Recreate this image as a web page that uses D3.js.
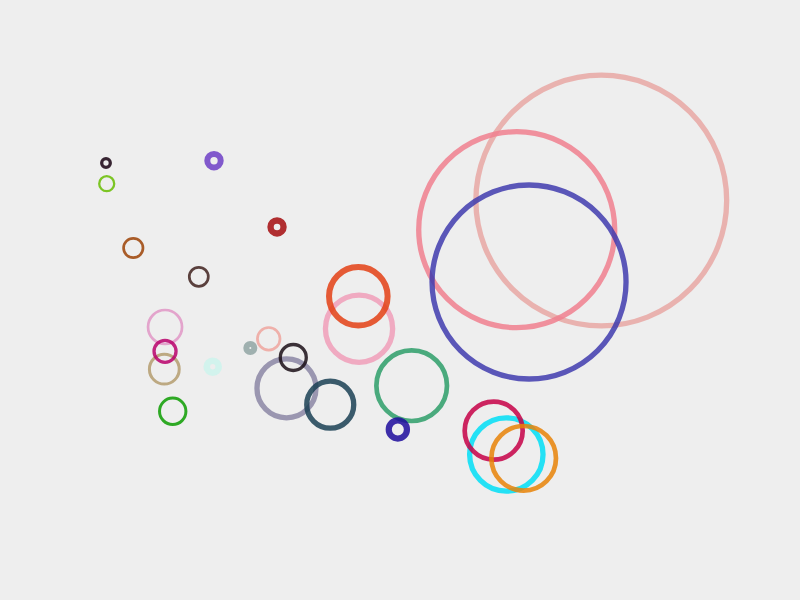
<!DOCTYPE html>
<html>
<head>
<meta charset="utf-8">
<script src="https://cdn.jsdelivr.net/npm/d3@7"></script>
<style>
  html, body { margin: 0; padding: 0; background: #eeeeee; }
  svg { display: block; }
</style>
</head>
<body>
<svg id="chart" width="800" height="600"></svg>
<script>
// circle values, in draw order
const xValues = [75.16, 64.59, 66.13, 51.46, 49.73, 63.29, 61.71, 65.46, 44.88, 44.79,
                 35.81, 41.28, 36.66, 33.59, 31.29, 26.59, 20.63, 20.54, 20.63, 21.59,
                 13.25, 13.34, 26.75, 34.63, 16.66, 24.85];
const yValues = [66.58, 61.72, 53.00, 35.72, 28.42, 24.25, 28.22, 23.62, 45.22, 50.62,
                 35.28, 32.55, 40.42, 43.53, 42.00, 38.88, 45.50, 38.47, 41.45, 31.45,
                 72.83, 69.38, 73.22, 62.17, 58.67, 53.87];
const sizes   = [125.4, 98, 97, 35.3, 9.1, 36.7, 29, 32.3, 33.6, 29.3,
                 29.5, 23.5, 13, 11.3, 4, 6, 17, 14.9, 11, 13.2,
                 4.3, 7.5, 6.7, 6.5, 9.7, 9.5];
const weights = [5.3, 5.3, 5.3, 4.7, 6.2, 5.3, 4.7, 4.7, 5.3, 6,
                 5.3, 5.3, 3.3, 2.7, 6, 6.6, 2.7, 3, 3.3, 3,
                 3.3, 2.3, 6, 6.4, 2.7, 2.7];
const colours = ['#e7a7a3', '#f07f8e', '#403bae', '#2d9e68', '#1d0c9c', '#00def6', '#c60047', '#e78207', '#f09eb8', '#e34014',
                 '#8b86a5', '#1a4053', '#1a0e16', '#eea59e', '#91a5a3', '#cdf3ec', '#e196c6', '#b49c6f', '#b8006b', '#0c9c00',
                 '#160010', '#67bd00', '#6d3ec6', '#a50c0e', '#9c4205', '#40211d'];

const width = 800;
const height = 600;

const svg = d3.select('#chart');

svg.append('rect')
    .attr('width', width)
    .attr('height', height)
    .attr('fill', '#eeeeee');

const xScale = d3.scaleLinear().domain([0, 100]).range([0, width]);
const yScale = d3.scaleLinear().domain([0, 100]).range([height, 0]);
const rScale = d3.scaleLinear().domain([0, 130]).range([0, 130]);

const data = xValues.map((x, i) => ({
    x: x,
    y: yValues[i],
    size: sizes[i],
    weight: weights[i],
    colour: colours[i]
}));

svg.append('g')
    .selectAll('circle')
    .data(data)
    .enter()
    .append('circle')
    .attr('cx', d => xScale(d.x))
    .attr('cy', d => yScale(d.y))
    .attr('r', d => rScale(d.size))
    .attr('fill', 'none')
    .attr('stroke', d => d.colour)
    .attr('stroke-width', d => d.weight)
    .attr('stroke-opacity', 0.85);
</script>
</body>
</html>
